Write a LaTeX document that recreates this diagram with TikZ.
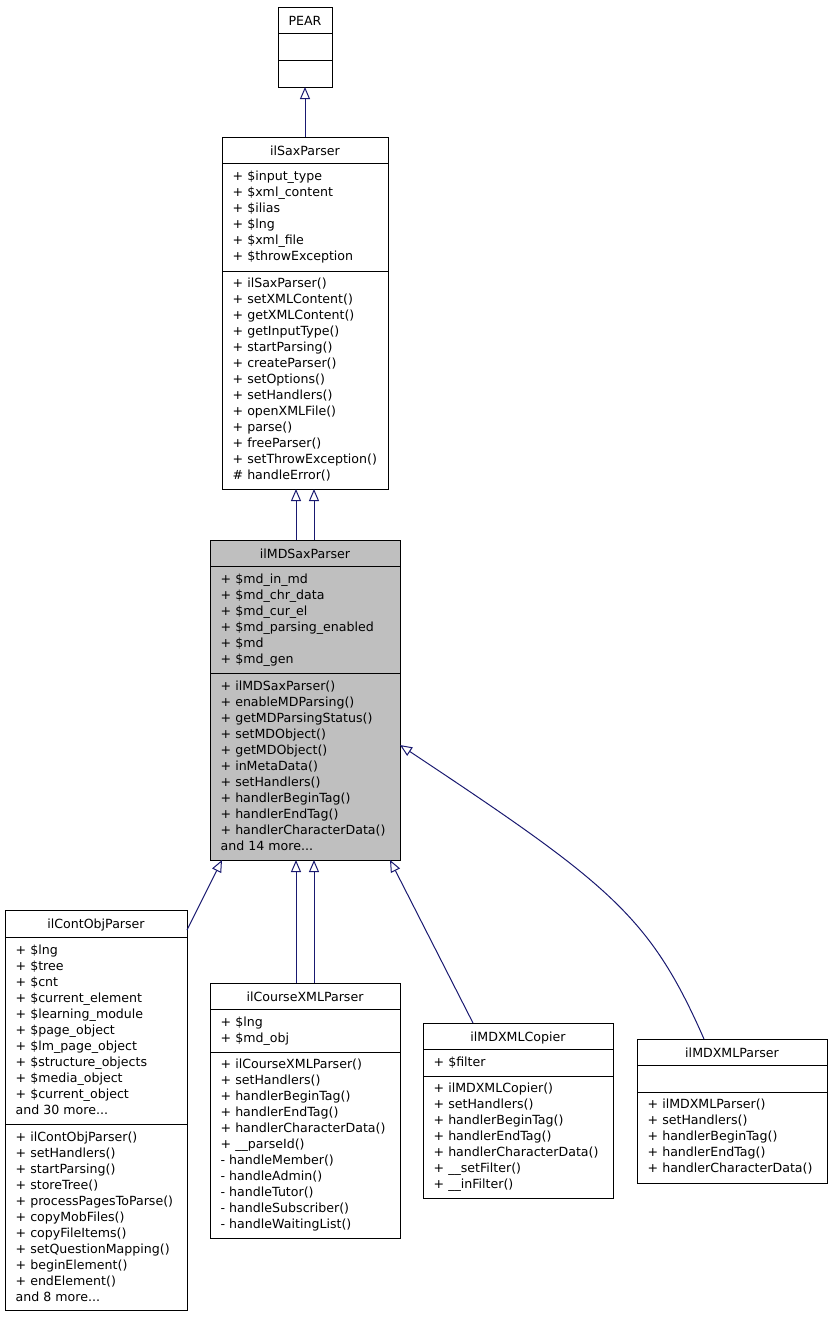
\documentclass[tikz,border=0pt]{standalone}
\usepackage{fontspec}
\setmainfont{DejaVu Sans}
\usetikzlibrary{arrows.meta}
\definecolor{edgeblue}{HTML}{191970}
\definecolor{mdgray}{HTML}{BFBFBF}
\newcommand\umlrow[1]{\strut#1}
\tikzset{
  classbox/.style={draw=black, line width=1pt, inner sep=0pt, outer sep=0pt, anchor=north west, fill=white},
  sepline/.style={draw=black, line width=1pt},
  ttl/.style={anchor=base, inner sep=0pt, font=\fontsize{12.6}{16}\selectfont},
  members/.style={anchor=north west, inner sep=0pt, align=left, font=\fontsize{12.6}{16}\selectfont},
  inh/.style={draw=edgeblue, line width=1pt, -{Triangle[open, length=12pt, width=10pt]}},
}
\begin{document}
\begin{tikzpicture}[x=1pt, y=-1pt]
\useasboundingbox (0,0) rectangle (832,1317);

% ---------- PEAR ----------
\node[classbox, minimum width=54pt, minimum height=80pt] (pear) at (278,7) {};
\draw[sepline] (pear.west |- 0,33) -- (pear.east |- 0,33);
\draw[sepline] (pear.west |- 0,60) -- (pear.east |- 0,60);
\node[ttl] (pearT) at (305,25) {PEAR};

% ---------- ilSaxParser ----------
\node[classbox, minimum width=166pt, minimum height=352pt] (sax) at (222,137) {};
\draw[sepline] (sax.west |- 0,163) -- (sax.east |- 0,163);
\draw[sepline] (sax.west |- 0,271) -- (sax.east |- 0,271);
\node[ttl] (saxT) at (305,155) {ilSaxParser};
\node[members] (saxA) at (232.5,169.3) {\umlrow{+ \$input\_type}\\\umlrow{+ \$xml\_content}\\\umlrow{+ \$ilias}\\\umlrow{+ \$lng}\\\umlrow{+ \$xml\_file}\\\umlrow{+ \$throwException}};
\node[members] (saxM) at (232.5,276.3) {\umlrow{+ ilSaxParser()}\\\umlrow{+ setXMLContent()}\\\umlrow{+ getXMLContent()}\\\umlrow{+ getInputType()}\\\umlrow{+ startParsing()}\\\umlrow{+ createParser()}\\\umlrow{+ setOptions()}\\\umlrow{+ setHandlers()}\\\umlrow{+ openXMLFile()}\\\umlrow{+ parse()}\\\umlrow{+ freeParser()}\\\umlrow{+ setThrowException()}\\\umlrow{\# handleError()}};

% ---------- ilMDSaxParser ----------
\node[classbox, fill=mdgray, minimum width=190pt, minimum height=320pt] (mdsax) at (210,540) {};
\draw[sepline] (mdsax.west |- 0,566) -- (mdsax.east |- 0,566);
\draw[sepline] (mdsax.west |- 0,673) -- (mdsax.east |- 0,673);
\node[ttl] (mdsaxT) at (305,558) {ilMDSaxParser};
\node[members] (mdsaxA) at (220.5,572.3) {\umlrow{+ \$md\_in\_md}\\\umlrow{+ \$md\_chr\_data}\\\umlrow{+ \$md\_cur\_el}\\\umlrow{+ \$md\_parsing\_enabled}\\\umlrow{+ \$md}\\\umlrow{+ \$md\_gen}};
\node[members] (mdsaxM) at (220.5,678.8) {\umlrow{+ ilMDSaxParser()}\\\umlrow{+ enableMDParsing()}\\\umlrow{+ getMDParsingStatus()}\\\umlrow{+ setMDObject()}\\\umlrow{+ getMDObject()}\\\umlrow{+ inMetaData()}\\\umlrow{+ setHandlers()}\\\umlrow{+ handlerBeginTag()}\\\umlrow{+ handlerEndTag()}\\\umlrow{+ handlerCharacterData()}\\\umlrow{and 14 more...}};

% ---------- ilContObjParser ----------
\node[classbox, minimum width=182pt, minimum height=400pt] (cont) at (5,910) {};
\draw[sepline] (cont.west |- 0,937) -- (cont.east |- 0,937);
\draw[sepline] (cont.west |- 0,1124) -- (cont.east |- 0,1124);
\node[ttl] (contT) at (96,928) {ilContObjParser};
\node[members] (contA) at (15.5,943.3) {\umlrow{+ \$lng}\\\umlrow{+ \$tree}\\\umlrow{+ \$cnt}\\\umlrow{+ \$current\_element}\\\umlrow{+ \$learning\_module}\\\umlrow{+ \$page\_object}\\\umlrow{+ \$lm\_page\_object}\\\umlrow{+ \$structure\_objects}\\\umlrow{+ \$media\_object}\\\umlrow{+ \$current\_object}\\\umlrow{and 30 more...}};
\node[members] (contM) at (15.5,1130.3) {\umlrow{+ ilContObjParser()}\\\umlrow{+ setHandlers()}\\\umlrow{+ startParsing()}\\\umlrow{+ storeTree()}\\\umlrow{+ processPagesToParse()}\\\umlrow{+ copyMobFiles()}\\\umlrow{+ copyFileItems()}\\\umlrow{+ setQuestionMapping()}\\\umlrow{+ beginElement()}\\\umlrow{+ endElement()}\\\umlrow{and 8 more...}};

% ---------- ilCourseXMLParser ----------
\node[classbox, minimum width=190pt, minimum height=255pt] (course) at (210,983) {};
\draw[sepline] (course.west |- 0,1009) -- (course.east |- 0,1009);
\draw[sepline] (course.west |- 0,1052) -- (course.east |- 0,1052);
\node[ttl] (courseT) at (305,1001) {ilCourseXMLParser};
\node[members] (courseA) at (220.5,1015.3) {\umlrow{+ \$lng}\\\umlrow{+ \$md\_obj}};
\node[members] (courseM) at (220.5,1056.8) {\umlrow{+ ilCourseXMLParser()}\\\umlrow{+ setHandlers()}\\\umlrow{+ handlerBeginTag()}\\\umlrow{+ handlerEndTag()}\\\umlrow{+ handlerCharacterData()}\\\umlrow{+ \_\_parseId()}\\\umlrow{- handleMember()}\\\umlrow{- handleAdmin()}\\\umlrow{- handleTutor()}\\\umlrow{- handleSubscriber()}\\\umlrow{- handleWaitingList()}};

% ---------- ilMDXMLCopier ----------
\node[classbox, minimum width=190pt, minimum height=175pt] (copier) at (423,1023) {};
\draw[sepline] (copier.west |- 0,1049) -- (copier.east |- 0,1049);
\draw[sepline] (copier.west |- 0,1076) -- (copier.east |- 0,1076);
\node[ttl] (copierT) at (518,1041) {ilMDXMLCopier};
\node[members] (copierA) at (433.5,1055.3) {\umlrow{+ \$filter}};
\node[members] (copierM) at (433.5,1081.3) {\umlrow{+ ilMDXMLCopier()}\\\umlrow{+ setHandlers()}\\\umlrow{+ handlerBeginTag()}\\\umlrow{+ handlerEndTag()}\\\umlrow{+ handlerCharacterData()}\\\umlrow{+ \_\_setFilter()}\\\umlrow{+ \_\_inFilter()}};

% ---------- ilMDXMLParser ----------
\node[classbox, minimum width=190pt, minimum height=144pt] (mdxml) at (637,1039) {};
\draw[sepline] (mdxml.west |- 0,1065) -- (mdxml.east |- 0,1065);
\draw[sepline] (mdxml.west |- 0,1092) -- (mdxml.east |- 0,1092);
\node[ttl] (mdxmlT) at (732,1057) {ilMDXMLParser};
\node[members] (mdxmlM) at (647.5,1097.3) {\umlrow{+ ilMDXMLParser()}\\\umlrow{+ setHandlers()}\\\umlrow{+ handlerBeginTag()}\\\umlrow{+ handlerEndTag()}\\\umlrow{+ handlerCharacterData()}};

% ---------- connectors ----------
\coordinate (xa) at (296,0);
\coordinate (xb) at (314,0);
\draw[inh] (sax.north) -- (pear.south);
\draw[inh] (mdsax.north -| xa) -- (sax.south -| xa);
\draw[inh] (mdsax.north -| xb) -- (sax.south -| xb);
\draw[inh] (course.north -| xa) -- (mdsax.south -| xa);
\draw[inh] (course.north -| xb) -- (mdsax.south -| xb);
\coordinate (contEnd) at (187,930);
\coordinate (xc) at (222,0);
\draw[inh] (contEnd) -- (mdsax.south -| xc);
\coordinate (xd) at (473,0);
\coordinate (xe) at (390,0);
\draw[inh] (copier.north -| xd) -- (mdsax.south -| xe);
\coordinate (xf) at (704,0);
\coordinate (mdsaxR) at (400,745);
\draw[inh] (mdxml.north -| xf) .. controls (650,916) and (610,884.5) .. (mdsaxR);
\end{tikzpicture}
\end{document}
